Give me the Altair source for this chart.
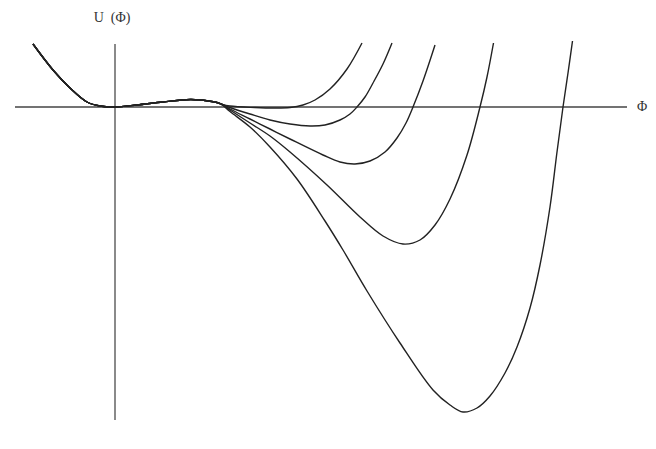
import altair as alt
import pandas as pd

# Shared left branch (all curves coincide here): field value and potential
common_phi = [-0.82, -0.62, -0.45, -0.28, -0.15, 0.0, 0.22, 0.48, 0.76, 1.0, 1.06]
common_u = [0.63, 0.37, 0.19, 0.05, 0.01, 0.0, 0.02, 0.05, 0.075, 0.05, 0.03]

# Right branches (one per curve)
c1_phi = [1.15, 1.4, 1.6, 1.75, 1.88, 2.0, 2.15, 2.32, 2.47]
c1_u = [0.01, -0.005, -0.01, -0.005, 0.02, 0.07, 0.18, 0.38, 0.64]

c2_phi = [1.15, 1.35, 1.55, 1.75, 1.95, 2.1, 2.25, 2.35, 2.42, 2.5, 2.58, 2.68, 2.77]
c2_u = [-0.005, -0.07, -0.13, -0.17, -0.19, -0.18, -0.13, -0.07, 0.0, 0.1, 0.24, 0.43, 0.64]

c3_phi = [1.15, 1.35, 1.55, 1.75, 2.08, 2.25, 2.4, 2.55, 2.7, 2.82, 2.91, 2.98, 3.08, 3.20]
c3_u = [-0.02, -0.12, -0.22, -0.32, -0.48, -0.55, -0.57, -0.54, -0.45, -0.31, -0.16, 0.0, 0.26, 0.62]

c4_phi = [1.15, 1.35, 1.55, 1.75, 2.12, 2.45, 2.68, 2.88, 3.05, 3.2, 3.35, 3.52, 3.65, 3.72, 3.785]
c4_u = [-0.03, -0.16, -0.29, -0.45, -0.78, -1.10, -1.29, -1.37, -1.33, -1.18, -0.92, -0.48, 0.0, 0.30, 0.64]

c5_phi = [1.15, 1.35, 1.55, 1.82, 2.1, 2.28, 2.52, 2.85, 3.18, 3.35, 3.48, 3.62, 3.75, 3.9, 4.02,
          4.15, 4.25, 4.35, 4.42, 4.48, 4.53, 4.575]
c5_u = [-0.045, -0.2, -0.4, -0.72, -1.14, -1.43, -1.84, -2.36, -2.83, -2.98, -3.05, -3.01, -2.89,
        -2.66, -2.40, -2.01, -1.58, -1.0, -0.45, 0.0, 0.34, 0.66]

branches = [(c1_phi, c1_u), (c2_phi, c2_u), (c3_phi, c3_u), (c4_phi, c4_u), (c5_phi, c5_u)]

rows = []
for k, (bp, bu) in enumerate(branches, start=1):
    for i, (p, u) in enumerate(zip(common_phi + bp, common_u + bu)):
        rows.append({"curve": f"c{k}", "i": i, "phi": p, "u": u})
df = pd.DataFrame(rows)

# axis extents
h_axis = pd.DataFrame({"x": [-1.0], "x2": [5.12], "y": [0.0]})
v_axis = pd.DataFrame({"x": [0.0], "y": [0.63], "y2": [-3.13]})
labels = pd.DataFrame({
    "x": [-0.03, 5.27],
    "y": [0.85, -0.04],
    "t": ["U\u00a0\u00a0(Φ)", "Φ"],
})

xs = alt.Scale(domain=[-1.07, 5.33], nice=False, zero=False)
ys = alt.Scale(domain=[-3.34, 0.99], nice=False, zero=False)

vrule = alt.Chart(v_axis).mark_rule(color="#8a8a8a", strokeWidth=2).encode(
    x=alt.X("x:Q", scale=xs, axis=None),
    y=alt.Y("y:Q", scale=ys, axis=None),
    y2="y2:Q",
)
hrule = alt.Chart(h_axis).mark_rule(color="#444444", strokeWidth=1.6).encode(
    x=alt.X("x:Q", scale=xs, axis=None),
    x2="x2:Q",
    y=alt.Y("y:Q", scale=ys, axis=None),
)
lines = alt.Chart(df).mark_line(
    color="#222222", strokeWidth=1.4, interpolate="catmull-rom"
).encode(
    x=alt.X("phi:Q", scale=xs, axis=None),
    y=alt.Y("u:Q", scale=ys, axis=None),
    detail="curve:N",
    order="i:Q",
)
text = alt.Chart(labels).mark_text(
    font="Liberation Serif", fontSize=14, color="#333333",
    align="center", baseline="alphabetic",
).encode(
    x=alt.X("x:Q", scale=xs, axis=None),
    y=alt.Y("y:Q", scale=ys, axis=None),
    text="t:N",
)

chart = alt.layer(vrule, hrule, lines, text).properties(
    width=640, height=433, padding=0,
    autosize=alt.AutoSizeParams(type="none"),
).configure_view(stroke=None)

chart.save("out.html", embed_options={"renderer": "svg", "actions": False})
